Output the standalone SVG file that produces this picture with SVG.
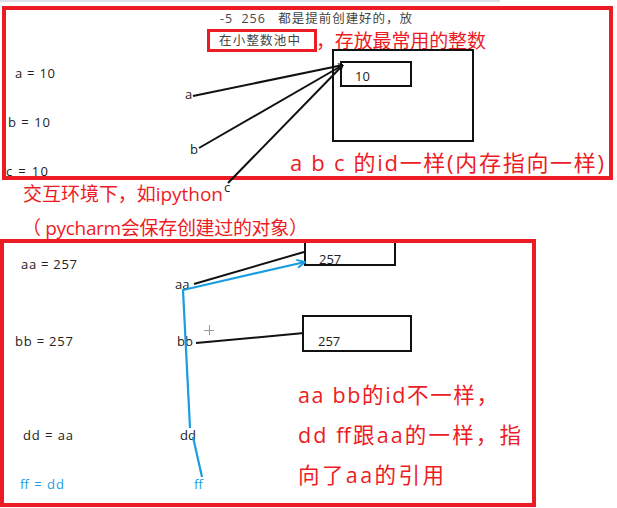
<svg xmlns="http://www.w3.org/2000/svg" width="617" height="508" viewBox="0 0 617 508">
<style>
text{font-family:"Open Sans","Noto Sans CJK SC",sans-serif;white-space:pre}
.frame{fill:none;stroke:#ed1c24;stroke-width:4}
.box{fill:#fff;stroke:#111;stroke-width:2}
.lbl{font-size:13px;fill:#222}
.note{font-size:22px;fill:#ed1c24}
.gray{font-size:12.5px;fill:#444}
.conn{stroke:#111;stroke-width:2;fill:none}
.blue{stroke:#1a9de0;stroke-width:2.2;fill:none}
</style>
<defs>
<marker id="ah" viewBox="0 0 10 10" refX="9" refY="5" markerWidth="6" markerHeight="6" orient="auto" markerUnits="userSpaceOnUse">
<path d="M1,1 L9,5 L1,9" fill="none" stroke="#111" stroke-width="1.5"/>
</marker>
<marker id="ahb" viewBox="0 0 10 10" refX="9" refY="5" markerWidth="10" markerHeight="10" orient="auto" markerUnits="userSpaceOnUse">
<path d="M1,1 L9,5 L1,9" fill="none" stroke="#1a9de0" stroke-width="2"/>
</marker>
</defs>
<rect x="0" y="0" width="617" height="508" fill="#fff"/>
<rect x="0" y="0" width="500" height="2" fill="#dde0e8"/>

<g id="top-frame"><rect class="frame" x="4" y="8" width="607" height="170"/></g>
<g id="title">
<text class="gray" x="220" y="23" textLength="192" lengthAdjust="spacing">-5  256   都是提前创建好的，放</text>
<rect x="208.5" y="30.5" width="107" height="20" fill="none" stroke="#ed1c24" stroke-width="3"/>
<text class="gray" x="219" y="45" textLength="81" lengthAdjust="spacing">在小整数池中</text>
<text x="316" y="48" style="font-size:19px;fill:#ed1c24" textLength="170" lengthAdjust="spacing">，存放最常用的整数</text>
</g>
<g id="pool"><rect class="box" x="333" y="50" width="140" height="91"/></g>
<g id="val10"><rect class="box" x="341" y="62" width="70" height="24"/><text class="lbl" x="355" y="81">10</text></g>
<g id="labels-top">
<text class="lbl" x="15" y="78" textLength="40" lengthAdjust="spacing">a = 10</text>
<text class="lbl" x="8" y="127" textLength="42" lengthAdjust="spacing">b = 10</text>
<text class="lbl" x="6" y="176" textLength="42" lengthAdjust="spacing">c = 10</text>
<text class="lbl" x="185" y="99">a</text>
<text class="lbl" x="190" y="154">b</text>
<text class="lbl" x="224" y="192">c</text>
</g>
<g id="connectors-top">
<line class="conn" x1="193" y1="96" x2="343" y2="65" marker-end="url(#ah)"/>
<line class="conn" x1="199" y1="148" x2="343" y2="65" marker-end="url(#ah)"/>
<line class="conn" x1="228" y1="183" x2="343" y2="65" marker-end="url(#ah)"/>
</g>
<g id="note-top"><text class="note" x="290" y="171" textLength="314" lengthAdjust="spacing">a b c 的id一样(内存指向一样)</text></g>
<g id="note-mid">
<text x="23" y="201" style="font-size:19px;fill:#ed1c24" textLength="200" lengthAdjust="spacing">交互环境下，如ipython</text>
<text x="22" y="235" style="font-size:19px;fill:#ed1c24" textLength="286" lengthAdjust="spacing">（ pycharm会保存创建过的对象）</text>
</g>

<g id="box257a"><rect class="box" x="305" y="241" width="90" height="24"/><text class="lbl" x="319" y="264">257</text></g>
<g id="bottom-frame"><rect class="frame" x="2" y="241" width="532" height="264"/></g>
<g id="box257b"><rect class="box" x="303" y="316" width="108" height="35"/><text class="lbl" x="318" y="346">257</text></g>
<g id="labels-bottom">
<text class="lbl" x="21" y="269" textLength="56" lengthAdjust="spacing">aa = 257</text>
<text class="lbl" x="15" y="346" textLength="58" lengthAdjust="spacing">bb = 257</text>
<text class="lbl" x="23" y="440" textLength="50" lengthAdjust="spacing">dd = aa</text>
<text class="lbl" x="20" y="489" style="fill:#1a9de0" textLength="44" lengthAdjust="spacing">ff = dd</text>
<text class="lbl" x="175" y="289">aa</text>
<text class="lbl" x="177" y="346">bb</text>
<text class="lbl" x="180" y="440">dd</text>
<text class="lbl" x="194" y="489" style="fill:#1a9de0">ff</text>
</g>
<g id="connectors-bottom">
<line class="conn" x1="194" y1="284" x2="304" y2="252"/>
<line class="conn" x1="196" y1="343" x2="304" y2="333"/>
<polyline class="blue" points="202,477 193,437"/>
<polyline class="blue" points="190,428 183,290 305,262" marker-end="url(#ahb)"/>
</g>
<g id="cursor" stroke="#999" stroke-width="1"><line x1="204" y1="330.5" x2="214" y2="330.5"/><line x1="209.5" y1="325" x2="209.5" y2="335"/></g>
<g id="note-bottom" class="note" style="font-size:21.5px">
<text x="298" y="403" textLength="200" lengthAdjust="spacing">aa bb的id不一样，</text>
<text x="298" y="443" textLength="223" lengthAdjust="spacing">dd ff跟aa的一样，指</text>
<text x="298" y="483" textLength="146" lengthAdjust="spacing">向了aa的引用</text>
</g>
</svg>
